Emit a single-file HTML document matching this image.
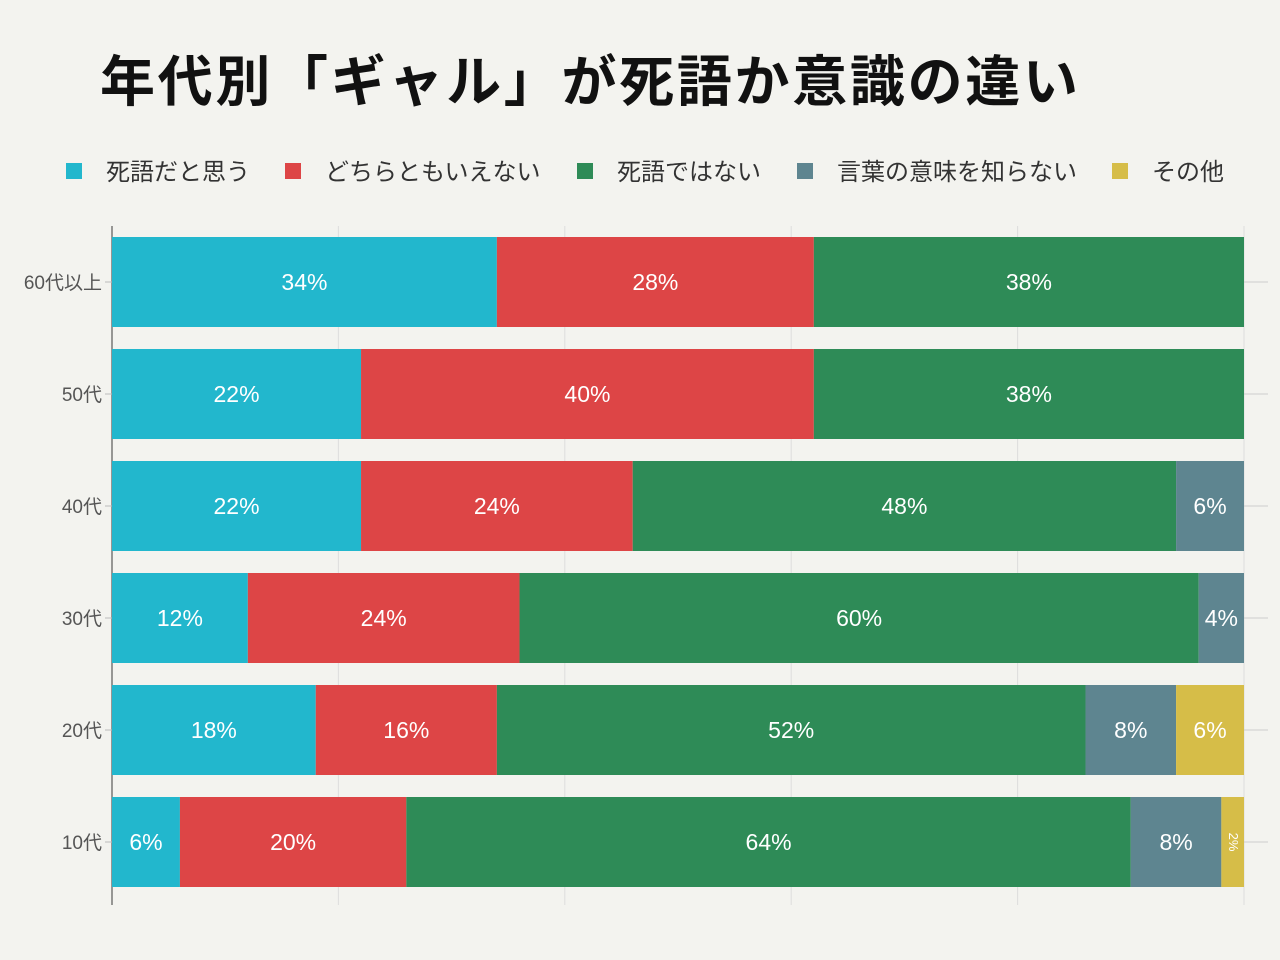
<!DOCTYPE html>
<html><head><meta charset="utf-8"><style>
body{margin:0;background:#f3f3ef;font-family:"Liberation Sans","Noto Sans CJK JP",sans-serif;}
svg{display:block}
</style></head><body>
<svg id="c" width="1280" height="960" xmlns="http://www.w3.org/2000/svg">
<rect width="1280" height="960" fill="#f3f3ef"/>
<text x="100" y="101" font-size="55" font-weight="bold" fill="#111" textLength="978" lengthAdjust="spacing" font-family="Liberation Sans, Noto Sans CJK JP, sans-serif">年代別「ギャル」が死語か意識の違い</text>
<g id="legend"></g>
<g id="grid"></g>
<g id="bars"></g>
</svg>
<script>
const categories=["60代以上","50代","40代","30代","20代","10代"];
const seriesNames=["死語だと思う","どちらともいえない","死語ではない","言葉の意味を知らない","その他"];
const s0=[34,22,22,12,18,6];
const s1=[28,40,24,24,16,20];
const s2=[38,38,48,60,52,64];
const s3=[0,0,6,4,8,8];
const s4=[0,0,0,0,6,2];
const series=[s0,s1,s2,s3,s4];
const colors=["#22b7cd","#dd4546","#2e8b57","#5e8590","#d6bd48"];
const legendX=[66,285,577,797,1112];
const NS="http://www.w3.org/2000/svg";
const x0=112,x1=1244,barTop=237,step=112,bh=90;
const xs=v=>x0+(x1-x0)*v/100;
function mk(t,a,p){const e=document.createElementNS(NS,t);for(const k in a)e.setAttribute(k,a[k]);p.appendChild(e);return e;}
const lg=document.getElementById('legend'),gg=document.getElementById('grid'),bg=document.getElementById('bars');
seriesNames.forEach((n,i)=>{
 const r=mk('rect',{x:legendX[i],y:163,width:16,height:16,fill:colors[i]},lg);
 
 
 const t=mk('text',{x:legendX[i]+40,y:180,'font-size':24,fill:'#333'},lg);
 t.textContent=n;
 
 
});
[0,20,40,60,80,100].forEach(v=>{
 const l=mk('line',{x1:xs(v),x2:xs(v),y1:226,y2:905,stroke:v===0?'#777':'#ddd','stroke-width':v===0?1.5:1},gg);
 
 
});
categories.forEach((c,ci)=>{
 const y=barTop+ci*step;
 const t=mk('text',{x:102,y:y+bh/2+7,'font-size':19,fill:'#555','text-anchor':'end'},gg);
 t.textContent=c;
 
 
 const tk=mk('line',{x1:105,x2:112,y1:y+bh/2,y2:y+bh/2,stroke:'#bbb'},gg);
 
 
 const tk2=mk('line',{x1:1244,x2:1268,y1:y+bh/2,y2:y+bh/2,stroke:'#ccc'},gg);
 
 
 let acc=0;
 series.forEach((s,si)=>{
  const v=s[ci]; if(!v) return;
  const a=xs(acc),b=xs(acc+v);
  const r=mk('rect',{x:a,y:y,width:b-a,height:bh,fill:colors[si]},bg);
  
  
  const cx=(a+b)/2,cy=y+bh/2;
  const lab=mk('text',{x:cx,y:cy+8,'font-size':23,fill:'#fff','text-anchor':'middle'},bg);
  if(b-a<30){lab.setAttribute('font-size',13);lab.setAttribute('y',cy);lab.setAttribute('dominant-baseline','middle');lab.setAttribute('transform','rotate(90 '+cx+' '+cy+')');}
  lab.textContent=v+'%';
  
  
  acc+=v;
 });
});
</script>
</body></html>
